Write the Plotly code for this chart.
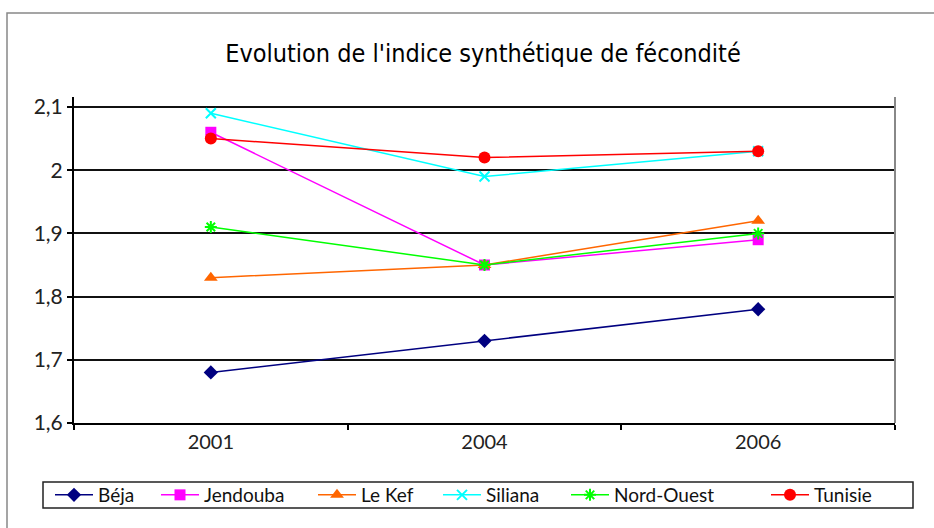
import plotly.graph_objects as go

years = ["2001", "2004", "2006"]
beja = [1.68, 1.73, 1.78]
jendouba = [2.06, 1.85, 1.89]
lekef = [1.83, 1.85, 1.92]
siliana = [2.09, 1.99, 2.03]
nordouest = [1.91, 1.85, 1.90]
tunisie = [2.05, 2.02, 2.03]

series = [
    ("Béja", beja, "#000080", "diamond", 11, None),
    ("Jendouba", jendouba, "#FF00FF", "square", 11, None),
    ("Le Kef", lekef, "#FF6600", "triangle-up", 12, None),
    ("Siliana", siliana, "#00FFFF", "x-thin", 10, 2),
    ("Nord-Ouest", nordouest, "#00FF00", "asterisk", 10, 2),
    ("Tunisie", tunisie, "#FF0000", "circle", 12, None),
]
# symbol centres of the legend entries (px, as in the reference)
legend_centres = [75, 181, 338, 463, 591, 791]

W, H = 934, 528
L, R, T, B = 74, 39, 97, 105
PW, PH = W - L - R, H - T - B
ytop = 2.1 + 10 * 0.5 / 316

fig = go.Figure()
legend_layouts = {}
for i, (name, vals, col, sym, sz, lw) in enumerate(series):
    marker = dict(symbol=sym, size=sz, color=col)
    if lw:
        marker["line"] = dict(color=col, width=lw)
    lg = "legend" if i == 0 else f"legend{i + 1}"
    fig.add_trace(go.Scatter(
        x=years, y=vals, name=name, mode="lines+markers",
        line=dict(color=col, width=1.5), marker=marker, legend=lg,
    ))
    legend_layouts[lg] = dict(
        orientation="h", xref="container", yref="container",
        x=(legend_centres[i] - 25) / W, xanchor="left",
        y=1 - 495 / H, yanchor="middle",
        borderwidth=0, bgcolor="rgba(0,0,0,0)",
        font=dict(size=19, color="#111111"), itemwidth=38,
    )

fig.update_layout(
    width=W, height=H,
    margin=dict(l=L, r=R, t=T, b=B, autoexpand=False),
    paper_bgcolor="white", plot_bgcolor="white",
    separators=", ",
    font=dict(family="Lato", size=18, color="#222222"),
    title=dict(text="Evolution de l'indice synthétique de fécondité",
               x=483 / W, xanchor="center", y=1 - 53 / H, yanchor="middle",
               font=dict(family="DejaVu Sans Condensed, Lato",
                         size=25, color="#000000")),
    xaxis=dict(type="category", range=[-0.5, 2.5], tickson="boundaries",
               ticks="outside", ticklen=5, tickwidth=2, tickcolor="black",
               showline=True, linecolor="black", linewidth=2,
               showgrid=False, zeroline=False,
               tickfont=dict(family="Lato", size=20, color="#222222")),
    yaxis=dict(range=[1.6, ytop], tickvals=[1.6, 1.7, 1.8, 1.9, 2.0, 2.1],
               ticks="outside", ticklen=5, tickwidth=2, tickcolor="black",
               showline=True, linecolor="black", linewidth=2,
               showgrid=True, gridcolor="#111111", gridwidth=2,
               zeroline=False,
               tickfont=dict(family="Lato", size=21, color="#222222")),
    showlegend=True,
    **legend_layouts,
)

# right gray plot border
fig.add_shape(type="line", xref="paper", yref="paper", x0=1, x1=1, y0=0, y1=1,
              line=dict(color="#888888", width=2))
# outer chart frame
fig.add_shape(type="rect", xref="paper", yref="paper",
              x0=(7 - L) / PW, x1=(945 - L) / PW,
              y0=(H - 540 - B) / PH, y1=(H - 13 - B) / PH,
              line=dict(color="#888888", width=1.5), layer="below")
# legend frame
fig.add_shape(type="rect", xref="paper", yref="paper",
              x0=(43 - L) / PW, x1=(913 - L) / PW,
              y0=(H - 508 - B) / PH, y1=(H - 482 - B) / PH,
              line=dict(color="#222222", width=1.5), layer="below")

fig.write_html("out.html", config={"displayModeBar": False},
               post_script="document.body.style.margin='0';document.body.style.overflow='hidden';")
